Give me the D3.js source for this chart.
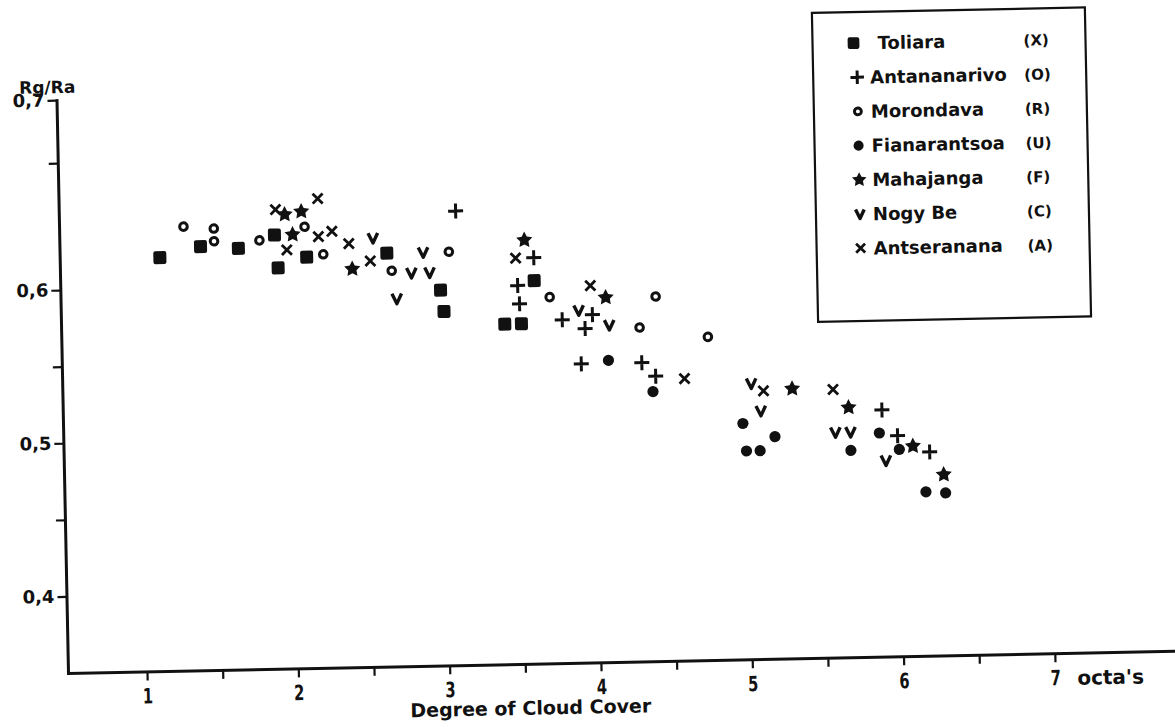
<!DOCTYPE html>
<html>
<head>
<meta charset="utf-8">
<script src="https://cdn.jsdelivr.net/npm/d3@7"></script>
<style>
body { margin: 0; background: #fff; }
text { font-family: "DejaVu Sans", sans-serif; font-weight: bold; fill: #111; }
</style>
</head>
<body>
<div id="chart"></div>
<script>
// data, [cloud cover (octas), Rg/Ra]
var toliara = [[1.14,0.612],[1.41,0.616],[1.66,0.615],[1.90,0.620],[1.92,0.607],[2.11,0.611],[2.64,0.612],[2.99,0.595],[3.01,0.581],[3.41,0.572],[3.52,0.572],[3.61,0.600]];
var antananarivo = [[3.10,0.628],[3.61,0.609],[3.50,0.597],[3.51,0.585],[3.79,0.574],[3.99,0.577],[3.94,0.568],[3.91,0.545],[4.31,0.545],[4.40,0.536],[5.89,0.511],[5.99,0.494],[6.20,0.483]];
var morondava = [[1.30,0.624],[1.50,0.623],[1.50,0.618],[1.80,0.618],[2.10,0.623],[2.22,0.612],[2.67,0.605],[3.05,0.612],[3.71,0.589],[4.41,0.588],[4.30,0.568],[4.75,0.561]];
var fianarantsoa = [[4.09,0.547],[4.38,0.526],[4.97,0.504],[4.99,0.486],[5.08,0.486],[5.18,0.495],[5.68,0.485],[5.87,0.496],[6.00,0.485],[6.17,0.457],[6.30,0.456]];
var mahajanga = [[1.97,0.628],[2.08,0.629],[2.02,0.620],[2.41,0.606],[3.55,0.616],[4.08,0.588],[5.30,0.526],[5.67,0.513],[6.09,0.487],[6.29,0.468]];
var nogyBe = [[2.55,0.618],[2.70,0.590],[2.88,0.612],[2.80,0.604],[2.92,0.604],[3.90,0.580],[4.10,0.570],[5.03,0.530],[5.09,0.512],[5.58,0.497],[5.68,0.497],[5.91,0.478]];
var antseranana = [[1.91,0.630],[2.19,0.634],[1.98,0.614],[2.19,0.619],[2.28,0.621],[2.39,0.616],[2.53,0.609],[3.49,0.609],[3.98,0.596],[4.59,0.534],[5.11,0.525],[5.57,0.525]];

var names = ["Toliara", "Antananarivo", "Morondava", "Fianarantsoa", "Mahajanga", "Nogy Be", "Antseranana"];
var codes = ["(X)", "(O)", "(R)", "(U)", "(F)", "(C)", "(A)"];
var shapes = ["square", "plus", "ring", "dot", "star", "vee", "cross"];
var allData = [toliara, antananarivo, morondava, fianarantsoa, mahajanga, nogyBe, antseranana];

var xTicks = [1, 2, 3, 4, 5, 6, 7];
var xMinor = [1.5, 2.5, 3.5, 4.5, 5.5, 6.5];
var yTicks = [0.4, 0.5, 0.6, 0.7];
var yTickLabels = ["0,4", "0,5", "0,6", "0,7"];
var yMinor = [0.45, 0.55, 0.65];

var svg = d3.select("#chart").append("svg").attr("width", 1175).attr("height", 727);
// the scan is a little tilted
var g = svg.append("g").attr("transform", "rotate(-1.15,68,673)");

var x = d3.scaleLinear().domain([1, 7]).range([147, 1055]);
x.domain([x.invert(68), x.invert(1190)]).range([68, 1190]);
// the printed y axis is not evenly spaced above 0,6
var y = d3.scaleLinear().domain([0.35, 0.6, 0.65, 0.7]).range([673, 290, 163, 100]);

//x axis
g.append("g").attr("class", "xaxis").attr("transform", "translate(0,673)")
  .call(d3.axisBottom(x).tickValues(xTicks).tickFormat(d3.format("d")).tickSize(9).tickSizeOuter(0).tickPadding(8));
g.append("g").attr("class", "xminor").attr("transform", "translate(0,673)")
  .call(d3.axisBottom(x).tickValues(xMinor).tickFormat("").tickSize(9).tickSizeOuter(0))
  .select(".domain").remove();
g.selectAll(".xaxis text").attr("font-size", 21).attr("transform", "scale(0.7,1)");

//y axis
g.append("g").attr("class", "yaxis").attr("transform", "translate(68,0)")
  .call(d3.axisLeft(y).tickValues(yTicks).tickFormat(function (d, i) { return yTickLabels[i]; }).tickSize(9).tickSizeOuter(0).tickPadding(3));
g.append("g").attr("class", "yminor").attr("transform", "translate(68,0)")
  .call(d3.axisLeft(y).tickValues(yMinor).tickFormat("").tickSize(9).tickSizeOuter(0))
  .select(".domain").remove();
g.selectAll(".yaxis text").attr("font-size", 18);

g.selectAll(".domain").attr("stroke", "#111").attr("stroke-width", 3).attr("stroke-linecap", "square");
g.selectAll(".tick line").attr("stroke", "#111").attr("stroke-width", 2.2);

g.append("text").attr("x", 87).attr("y", 93).attr("text-anchor", "end").attr("font-size", 17).text("Rg/Ra");
g.append("text").attr("x", 1077).attr("y", 705).attr("font-size", 20).text("octa's");
g.append("text").attr("x", 530).attr("y", 724).attr("text-anchor", "middle").attr("font-size", 19).text("Degree of Cloud Cover");

function starPath(R, r) {
  var pts = d3.range(10).map(function (i) {
    var a = i * Math.PI / 5 - Math.PI / 2, rr = i % 2 ? r : R;
    return [rr * Math.cos(a), rr * Math.sin(a)];
  });
  return "M" + pts.join("L") + "Z";
}

// draws one symbol at 0,0 of sel, k = size factor
function mark(sel, shape, k) {
  if (shape == "square") {
    sel.append("rect").attr("x", -6.5 * k).attr("y", -6.5 * k).attr("width", 13 * k).attr("height", 13 * k).attr("rx", 2).attr("fill", "#111");
  } else if (shape == "plus") {
    sel.append("path").attr("d", "M" + (-7.5 * k) + ",0H" + (7.5 * k) + "M0," + (-7.5 * k) + "V" + (7.5 * k)).attr("stroke", "#111").attr("stroke-width", 3).attr("fill", "none");
  } else if (shape == "ring") {
    sel.append("circle").attr("r", 3.8 * k).attr("fill", "none").attr("stroke", "#111").attr("stroke-width", 3);
  } else if (shape == "dot") {
    sel.append("circle").attr("r", 5.6 * k).attr("fill", "#111");
  } else if (shape == "star") {
    sel.append("path").attr("d", starPath(8.5 * k, 4.3 * k)).attr("fill", "#111");
  } else if (shape == "vee") {
    sel.append("path").attr("d", "M" + (-4.8 * k) + "," + (-5 * k) + "L0," + (5 * k) + "L" + (4.8 * k) + "," + (-5 * k)).attr("stroke", "#111").attr("stroke-width", 3.4).attr("stroke-linejoin", "round").attr("fill", "none");
  } else if (shape == "cross") {
    sel.append("path").attr("d", "M" + (-5 * k) + "," + (-5 * k) + "L" + (5 * k) + "," + (5 * k) + "M" + (5 * k) + "," + (-5 * k) + "L" + (-5 * k) + "," + (5 * k)).attr("stroke", "#111").attr("stroke-width", 2.8).attr("fill", "none");
  }
}

// dots
allData.forEach(function (data, i) {
  g.append("g").selectAll("g").data(data).enter().append("g")
    .attr("transform", function (p) { return "translate(" + x(p[0]) + "," + y(p[1]) + ")"; })
    .each(function () { mark(d3.select(this), shapes[i], 1); });
});

// legend
var legend = g.append("g").attr("class", "legend");
legend.append("rect").attr("x", 825).attr("y", 28).attr("width", 273).attr("height", 309)
  .attr("fill", "none").attr("stroke", "#111").attr("stroke-width", 2.2);
names.forEach(function (n, i) {
  var ly = 59 + i * 34.2;
  var row = legend.append("g").attr("transform", "translate(0," + ly + ")");
  mark(row.append("g").attr("transform", "translate(" + (i === 0 ? 866 : 869) + ",0)"), shapes[i], 0.9);
  row.append("text").attr("x", i === 0 ? 890 : 882).attr("y", 6.5).attr("font-size", 18).text(n);
  row.append("text").attr("x", 1036).attr("y", 6).attr("font-size", 15).text(codes[i]);
});
</script>
</body>
</html>
